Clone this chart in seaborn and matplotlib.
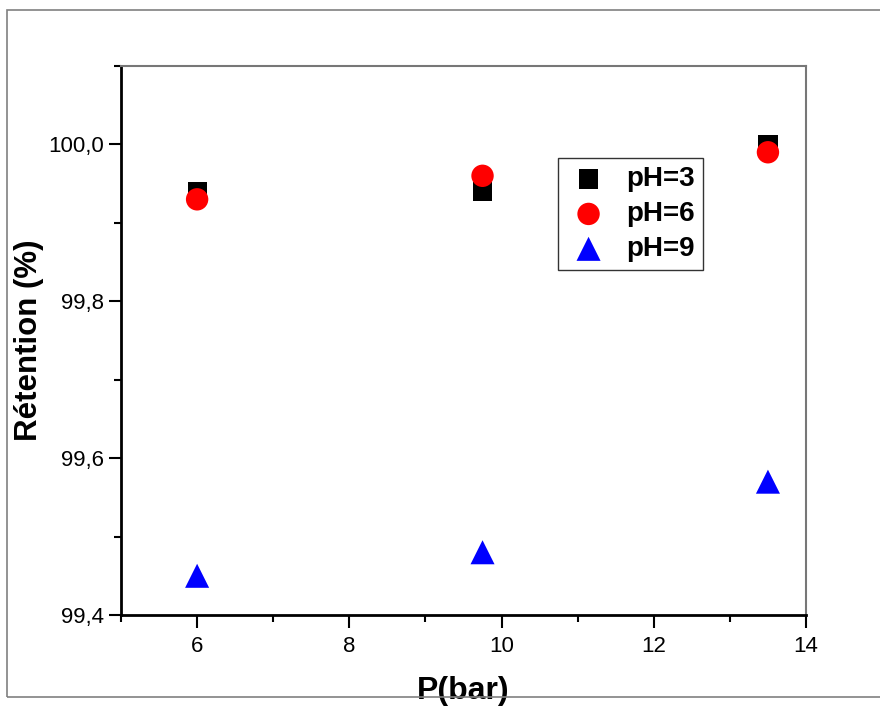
import matplotlib
matplotlib.use("Agg")
import matplotlib.pyplot as plt
from matplotlib.patches import Rectangle
from matplotlib.ticker import MultipleLocator, FuncFormatter
import pandas as pd
import seaborn as sns

# Retention measurements versus transmembrane pressure
pressure = [6.0, 9.75, 13.5]
ret_ph3 = [99.94, 99.94, 100.00]
ret_ph6 = [99.93, 99.96, 99.99]
ret_ph9 = [99.45, 99.48, 99.57]
series_labels = ["pH=3", "pH=6", "pH=9"]
x_ticks = [6, 8, 10, 12, 14]
y_ticks = [99.4, 99.6, 99.8, 100.0]

df = pd.DataFrame({
    "P": pressure * 3,
    "R": ret_ph3 + ret_ph6 + ret_ph9,
    "pH": [series_labels[0]] * 3 + [series_labels[1]] * 3 + [series_labels[2]] * 3,
})

sns.set_theme(style="white")
plt.rcParams["font.family"] = ["Liberation Sans", "DejaVu Sans"]
for key in ["text.color", "axes.labelcolor", "xtick.color", "ytick.color"]:
    plt.rcParams[key] = "black"

fig = plt.figure(figsize=(8.8, 7.07), dpi=100)
ax = fig.add_axes([121 / 880, 1 - 615 / 707, (806 - 121) / 880, (615 - 66) / 707])

# outer frame around the figure
fig.patches.append(Rectangle((7 / 880, 1 - 697 / 707), 1.0, (697 - 10) / 707,
                             transform=fig.transFigure, fill=False,
                             edgecolor="#808080", linewidth=1.2, zorder=0))

palette = {"pH=3": "black", "pH=6": "red", "pH=9": "blue"}
markers = {"pH=3": "s", "pH=6": "o", "pH=9": "^"}
sizes = {"pH=3": 190, "pH=6": 260, "pH=9": 300}

for lab in series_labels:
    sub = df[df["pH"] == lab]
    sns.scatterplot(data=sub, x="P", y="R", color=palette[lab], marker=markers[lab],
                    s=sizes[lab], edgecolor="none", linewidth=0, ax=ax, label=lab,
                    zorder=3)

ax.set_xlim(5, 14)
ax.set_ylim(99.4, 100.1)
ax.set_xticks(x_ticks)
ax.set_yticks(y_ticks)
ax.xaxis.set_minor_locator(MultipleLocator(1))
ax.yaxis.set_minor_locator(MultipleLocator(0.1))
ax.yaxis.set_major_formatter(FuncFormatter(lambda v, p: f"{v:.1f}".replace(".", ",")))

ax.tick_params(axis="both", which="major", direction="out", length=9, width=1.5,
               color="black", labelsize=16, bottom=True, left=True)
ax.tick_params(axis="x", which="major", pad=6)
ax.tick_params(axis="y", which="major", pad=3)
ax.tick_params(axis="both", which="minor", direction="out", length=5, width=1.5,
               color="black", bottom=True, left=True)

for side in ["left", "bottom"]:
    ax.spines[side].set_color("black")
    ax.spines[side].set_linewidth(2)
for side in ["top", "right"]:
    ax.spines[side].set_color("#777777")
    ax.spines[side].set_linewidth(1.5)

ax.set_xlabel("P(bar)", fontsize=23, fontweight="bold")
ax.set_ylabel("Rétention (%)", fontsize=22.5, fontweight="bold")
ax.xaxis.set_label_coords(0.5, -0.111)
ax.yaxis.set_label_coords(-0.113, 0.5)

leg = ax.legend(loc="upper left", bbox_to_anchor=((558 - 121) / 685, 1 - (158 - 66) / 549),
                frameon=True, fancybox=False, edgecolor="#333333", framealpha=1,
                prop={"weight": "bold", "size": 20}, handletextpad=0.55,
                borderpad=0.3, labelspacing=0.32, handlelength=1.6, markerscale=1.0,
                borderaxespad=0)
leg.get_frame().set_linewidth(1.0)

fig.savefig("out.png", dpi=100)
